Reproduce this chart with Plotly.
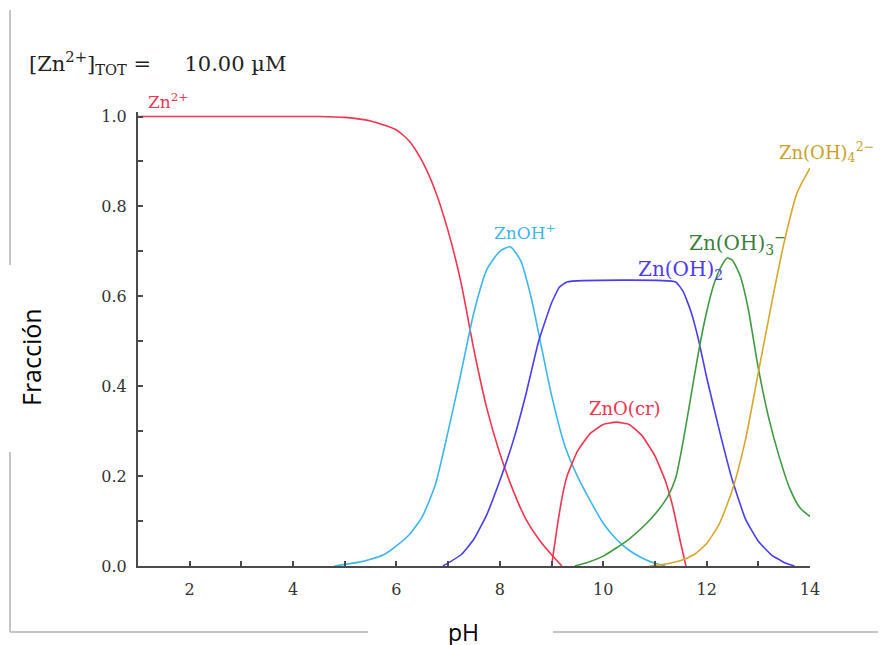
import plotly.graph_objects as go

# ---------------- data ----------------
ph_zn = [1.0, 4.5, 5.0, 5.5, 6.0, 6.25, 6.5, 6.75, 7.0, 7.25, 7.5, 7.75, 8.0, 8.25, 8.5, 8.75, 9.0, 9.2]
f_zn = [1.0, 1.0, 0.998, 0.99, 0.97, 0.945, 0.9, 0.835, 0.745, 0.63, 0.48, 0.35, 0.25, 0.17, 0.105, 0.06, 0.025, 0.0]

ph_znoh = [4.8, 5.25, 5.5, 5.75, 6.0, 6.25, 6.5, 6.75, 7.0, 7.25, 7.5, 7.75, 8.0, 8.2, 8.4, 8.6, 8.8, 9.0, 9.25, 9.5, 9.75, 10.0, 10.25, 10.5, 10.75, 11.0, 11.2]
f_znoh = [0.0, 0.008, 0.015, 0.025, 0.045, 0.07, 0.11, 0.18, 0.30, 0.43, 0.565, 0.66, 0.70, 0.71, 0.68, 0.60, 0.49, 0.38, 0.27, 0.20, 0.145, 0.095, 0.06, 0.035, 0.018, 0.006, 0.0]

ph_znoh2 = [6.9, 7.25, 7.5, 7.75, 8.0, 8.25, 8.5, 8.75, 9.0, 9.15, 9.3, 11.4, 11.55, 11.7, 11.85, 12.0, 12.25, 12.5, 12.75, 13.0, 13.25, 13.5, 13.7]
f_znoh2 = [0.0, 0.025, 0.06, 0.115, 0.19, 0.275, 0.38, 0.50, 0.585, 0.62, 0.632, 0.632, 0.61, 0.565, 0.50, 0.42, 0.30, 0.19, 0.105, 0.055, 0.025, 0.008, 0.0]

ph_zno = [9.0, 9.1, 9.2, 9.3, 9.5, 9.75, 10.0, 10.25, 10.5, 10.75, 11.0, 11.2, 11.35, 11.5, 11.6]
f_zno = [0.0, 0.08, 0.15, 0.2, 0.255, 0.295, 0.315, 0.32, 0.315, 0.29, 0.245, 0.19, 0.13, 0.05, 0.0]

ph_znoh3 = [9.45, 9.75, 10.0, 10.25, 10.5, 10.75, 11.0, 11.25, 11.4, 11.55, 11.7, 11.85, 12.0, 12.15, 12.3, 12.4, 12.5, 12.65, 12.8, 13.0, 13.2, 13.4, 13.6, 13.8, 14.0]
f_znoh3 = [0.0, 0.01, 0.022, 0.04, 0.06, 0.085, 0.115, 0.155, 0.195, 0.28, 0.38, 0.48, 0.565, 0.63, 0.67, 0.685, 0.68, 0.645, 0.575, 0.44, 0.33, 0.245, 0.175, 0.13, 0.11]

ph_znoh4 = [10.9, 11.25, 11.5, 11.75, 12.0, 12.25, 12.5, 12.75, 13.0, 13.25, 13.5, 13.75, 14.0]
f_znoh4 = [0.0, 0.005, 0.012, 0.025, 0.05, 0.095, 0.17, 0.28, 0.43, 0.58, 0.72, 0.83, 0.885]

x_tickvals = [2, 4, 6, 8, 10, 12, 14]
y_tickvals = [0.0, 0.2, 0.4, 0.6, 0.8, 1.0]
y_ticktext = ["0.0", "0.2", "0.4", "0.6", "0.8", "1.0"]

# ---------------- layout geometry ----------------
OFF = 8                      # page body margin of the html page
W, H = 886 - OFF, 645 - OFF  # figure size so it ends at the window edge
L, R = 138, 810              # plot area in reference-window pixels
T, B = 112, 566
YMAX = 1.01

def px(xp):
    return (xp - L) / (R - L)

def py(yp):
    return (B - yp) / (B - T)

RED = "#f2344e"
CYAN = "#3cb6ec"
BLUE = "#4a3cf2"
GREEN = "#3f9a40"
GOLD = "#d8a82c"

fig = go.Figure()
common = dict(mode="lines", hoverinfo="skip", showlegend=False)
fig.add_trace(go.Scatter(x=ph_zn, y=f_zn, line=dict(color=RED, width=1.6, shape="spline", smoothing=0.6), **common))
fig.add_trace(go.Scatter(x=ph_znoh, y=f_znoh, line=dict(color=CYAN, width=1.6, shape="spline", smoothing=0.6), **common))
fig.add_trace(go.Scatter(x=ph_znoh2, y=f_znoh2, line=dict(color=BLUE, width=1.6, shape="spline", smoothing=0.4), **common))
fig.add_trace(go.Scatter(x=ph_zno, y=f_zno, line=dict(color=RED, width=1.6, shape="spline", smoothing=0.4), **common))
fig.add_trace(go.Scatter(x=ph_znoh3, y=f_znoh3, line=dict(color=GREEN, width=1.6, shape="spline", smoothing=0.6), **common))
fig.add_trace(go.Scatter(x=ph_znoh4, y=f_znoh4, line=dict(color=GOLD, width=1.6, shape="spline", smoothing=0.6), **common))

serif = "DejaVu Serif, Liberation Serif, serif"
sans = "Open Sans, Liberation Sans, sans-serif"

tickfont = dict(family=serif, size=16, color="#333333")
axis_common = dict(showline=True, linecolor="#4a4a4a", linewidth=2, showgrid=False, zeroline=False,
                   ticks="inside", ticklen=5, tickwidth=1.5, tickcolor="#4a4a4a", tickfont=tickfont)

fig.update_layout(
    width=W, height=H,
    margin=dict(l=L - OFF, r=W - (R - OFF), t=T - OFF, b=H - (B - OFF), pad=0),
    paper_bgcolor="white", plot_bgcolor="white",
    xaxis=dict(range=[1, 14], tickvals=x_tickvals, ticklabelstandoff=8,
               minor=dict(dtick=1, tick0=0, ticks="inside", ticklen=5, tickcolor="#4a4a4a", tickwidth=1.5),
               **axis_common),
    yaxis=dict(range=[0, YMAX], tickvals=y_tickvals, ticktext=y_ticktext, ticklabelstandoff=6,
               minor=dict(dtick=0.1, tick0=0, ticks="inside", ticklen=5, tickcolor="#4a4a4a", tickwidth=1.5),
               **axis_common),
)

# outer frame (gray) with gaps for axis titles
frame = dict(type="line", xref="paper", yref="paper", line=dict(color="#c4c4c4", width=2))
fig.add_shape(x0=px(10), x1=px(10), y0=py(10), y1=py(265), **frame)
fig.add_shape(x0=px(10), x1=px(10), y0=py(452), y1=py(632), **frame)
fig.add_shape(x0=px(10), x1=px(368), y0=py(632), y1=py(632), **frame)
fig.add_shape(x0=px(553), x1=px(886), y0=py(632), y1=py(632), **frame)

def label(text, xp, yp, color, size=18, anchor="left"):
    fig.add_annotation(text=text, x=px(xp), y=py(yp), xref="paper", yref="paper",
                       xanchor=anchor, yanchor="middle", showarrow=False,
                       font=dict(family=serif, size=size, color=color))

label("[Zn<sup>2+</sup>]<sub>TOT</sub> =&nbsp;&nbsp;&nbsp;&nbsp; 10.00 µM", 27, 63, "#222222", size=21)
label("Zn<sup>2+</sup>", 146, 101, RED, size=17)
label("ZnOH<sup>+</sup>", 492, 232, CYAN, size=17)
label("Zn(OH)<sub>2</sub>", 636, 270, BLUE, size=20)
label("Zn(OH)<sub>3</sub><sup>−</sup>", 687, 243, "#3a7f3a", size=20)
label("ZnO(cr)", 587, 408, RED, size=18)
label("Zn(OH)<sub>4</sub><sup>2−</sup>", 777, 152, "#c9a22a", size=18)

fig.add_annotation(text="Fracción", x=px(31), y=py(357), xref="paper", yref="paper",
                   textangle=-90, showarrow=False, xanchor="center", yanchor="middle",
                   font=dict(family=sans, size=25, color="black"))
fig.add_annotation(text="pH", x=px(463), y=py(632), xref="paper", yref="paper",
                   showarrow=False, xanchor="center", yanchor="middle",
                   font=dict(family=sans, size=23, color="black"))

fig.write_html("out.html")
